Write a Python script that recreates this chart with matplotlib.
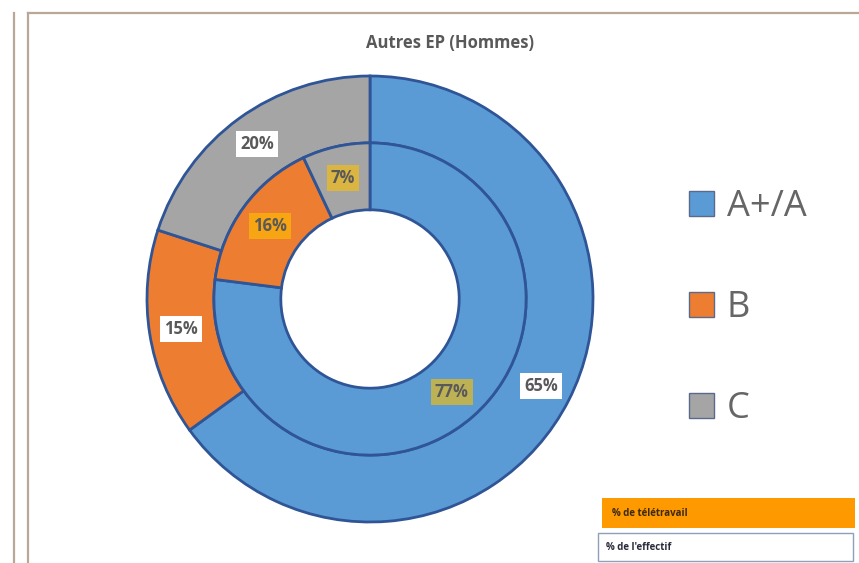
import matplotlib
matplotlib.use('Agg')
import matplotlib.pyplot as plt
from matplotlib.patches import Rectangle, Patch
import numpy as np

plt.rcParams['font.family'] = ['Open Sans', 'DejaVu Sans']

# data
categories = ['A+/A', 'B', 'C']
effectif = [65, 15, 20]      # outer ring: % de l'effectif
teletravail = [77, 16, 7]    # inner ring: % de télétravail
colors = ['#5B9BD5', '#ED7D31', '#A5A5A5']
title = 'Autres EP (Hommes)'

W, H = 859, 563
fig = plt.figure(figsize=(W/100, H/100), dpi=100)

# panel frames
frame = '#B9A898'
fig.add_artist(plt.Line2D([14/W, 14/W], [0, 1-13/H], color=frame, lw=1.6))
fig.add_artist(plt.Line2D([28/W, 28/W], [0, 1-13/H], color=frame, lw=1.6))
fig.add_artist(plt.Line2D([28/W, 1], [1-13/H, 1-13/H], color=frame, lw=1.6))

# donut axes
cx, cy, R = 370, 299, 223
half = 1.1*R
ax = fig.add_axes([(cx-half)/W, (H-cy-half)/H, 2*half/W, 2*half/H])
ax.axis('off')

edge = dict(edgecolor='#2F5597', linewidth=2)
w_out, _ = ax.pie(effectif, colors=colors, radius=1.0, startangle=90, counterclock=False,
                  wedgeprops=dict(width=0.30, **edge))
w_in, _ = ax.pie(teletravail, colors=colors, radius=0.70, startangle=90, counterclock=False,
                 wedgeprops=dict(width=0.30, **edge))
ax.set_xlim(-1.1, 1.1)
ax.set_ylim(-1.1, 1.1)

def put_labels(wedges, vals, r, box):
    for w, v in zip(wedges, vals):
        a = np.deg2rad((w.theta1 + w.theta2) / 2)
        ax.text(r*np.cos(a), r*np.sin(a), f'{v}%', ha='center', va='center',
                fontsize=12, fontweight='bold', color='#595959', bbox=box)

put_labels(w_out, effectif, 0.86,
           dict(boxstyle='square,pad=0.25', facecolor='white', edgecolor='none'))
put_labels(w_in, teletravail, 0.555,
           dict(boxstyle='square,pad=0.25', facecolor='#FFC000', alpha=0.6, edgecolor='none'))

# title
fig.text(450/W, 1-43/H, title, ha='center', va='center', fontsize=12,
         fontweight='bold', color='#595959')

# legend
handles = [Patch(facecolor=c, edgecolor='#5A6A8A', linewidth=1) for c in colors]
fig.legend(handles, categories, loc='upper left', bbox_to_anchor=(689/W, 1-189/H),
           frameon=False, fontsize=26, labelcolor='#666666', handlelength=0.7,
           handleheight=0.7, handletextpad=0.35, labelspacing=1.8, borderpad=0,
           borderaxespad=0)

# small key boxes bottom-right
fig.add_artist(Rectangle((602/W, 1-528/H), 253/W, 30/H, transform=fig.transFigure,
                         facecolor='#FF9900', edgecolor='none'))
fig.text(612/W, 1-513/H, '% de télétravail', fontsize=7, fontweight='bold',
         color='#3A2A10', va='center')
fig.add_artist(Rectangle((598/W, 1-561/H), 255/W, 28/H, transform=fig.transFigure,
                         facecolor='white', edgecolor='#8EA0B8', linewidth=1))
fig.text(606/W, 1-547/H, "% de l'effectif", fontsize=7, fontweight='bold',
         color='#2A2A3A', va='center')

fig.savefig('out.png', dpi=100)
